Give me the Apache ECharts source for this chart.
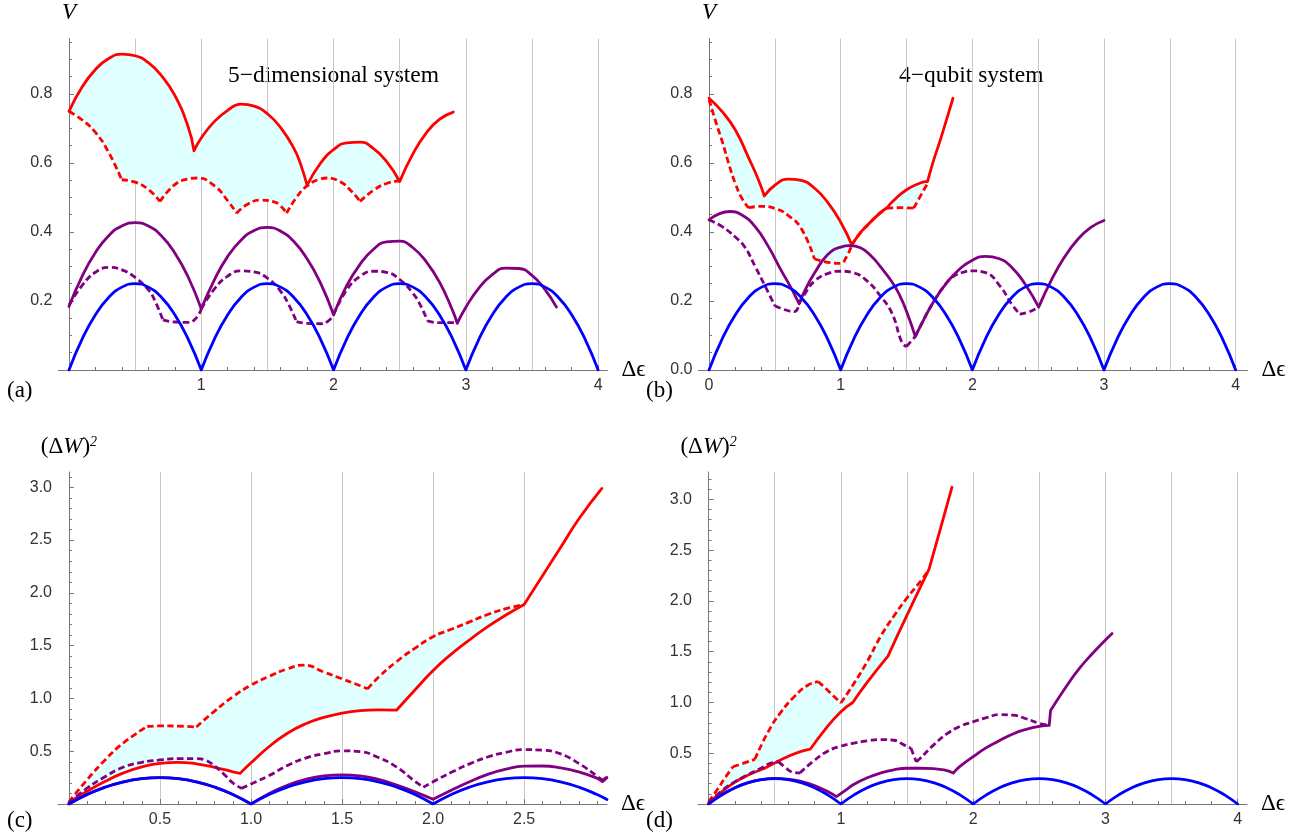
<!DOCTYPE html>
<html>
<head>
<meta charset="utf-8">
<script src="https://cdn.jsdelivr.net/npm/echarts@6/dist/echarts.min.js"></script>
<style>
  html, body { margin: 0; padding: 0; background: #fff; }
  #chart { width: 1301px; height: 836px; }
</style>
</head>
<body>
<div id="chart"></div>
<script>
// ---- curves, each one a list of arcs (cusps split the arcs) ----
// blue curve, same in (a), (b), (d)
const blueArcs = [
  [[0,0],[0.1,0.09],[0.2,0.16],[0.3,0.21],[0.4,0.24],[0.5,0.25],[0.6,0.24],[0.7,0.21],[0.8,0.16],[0.9,0.09],[1,0]],
  [[1,0],[1.1,0.09],[1.2,0.16],[1.3,0.21],[1.4,0.24],[1.5,0.25],[1.6,0.24],[1.7,0.21],[1.8,0.16],[1.9,0.09],[2,0]],
  [[2,0],[2.1,0.09],[2.2,0.16],[2.3,0.21],[2.4,0.24],[2.5,0.25],[2.6,0.24],[2.7,0.21],[2.8,0.16],[2.9,0.09],[3,0]],
  [[3,0],[3.1,0.09],[3.2,0.16],[3.3,0.21],[3.4,0.24],[3.5,0.25],[3.6,0.24],[3.7,0.21],[3.8,0.16],[3.9,0.09],[4,0]]
];

// (a) 5-dimensional system, V
const aRed = [
  [[0,0.749],[0.1,0.82],[0.2,0.87],[0.3,0.902],[0.4,0.915],[0.5,0.91],[0.6,0.89],[0.7,0.852],[0.8,0.795],[0.9,0.705],[0.945,0.635]],
  [[0.945,0.635],[1,0.672],[1.1,0.72],[1.2,0.752],[1.3,0.77],[1.4,0.764],[1.5,0.742],[1.6,0.702],[1.7,0.642],[1.75,0.597],[1.8,0.535]],
  [[1.8,0.535],[1.9,0.598],[2,0.638],[2.1,0.658],[2.2,0.66],[2.3,0.642],[2.4,0.604],[2.5,0.546]],
  [[2.5,0.546],[2.6,0.626],[2.7,0.686],[2.8,0.726],[2.905,0.747]]
];
const aRedD = [
  [[0,0.749],[0.1,0.724],[0.2,0.688],[0.3,0.63],[0.398,0.551]],
  [[0.398,0.551],[0.5,0.544],[0.6,0.523],[0.688,0.488]],
  [[0.688,0.488],[0.8,0.537],[0.9,0.553],[0.97,0.556],[1.1,0.533],[1.2,0.49],[1.267,0.454]],
  [[1.267,0.454],[1.35,0.48],[1.45,0.492],[1.55,0.487],[1.6,0.475],[1.645,0.454]],
  [[1.645,0.454],[1.72,0.5],[1.8,0.533],[1.9,0.553],[1.95,0.556],[2.05,0.545],[2.13,0.52],[2.2,0.488]],
  [[2.2,0.488],[2.3,0.52],[2.4,0.54],[2.5,0.548]]
];
const aPurple = [
  [[0,0.184],[0.1,0.272],[0.2,0.34],[0.3,0.389],[0.4,0.417],[0.5,0.427],[0.6,0.417],[0.7,0.388],[0.8,0.339],[0.9,0.27],[1,0.177]],
  [[1,0.177],[1.1,0.262],[1.2,0.329],[1.3,0.376],[1.4,0.404],[1.5,0.413],[1.6,0.402],[1.7,0.372],[1.8,0.322],[1.9,0.253],[2,0.16]],
  [[2,0.16],[2.1,0.245],[2.2,0.306],[2.3,0.349],[2.4,0.371],[2.5,0.373],[2.6,0.354],[2.7,0.314],[2.8,0.255],[2.9,0.172],[2.935,0.135]],
  [[2.935,0.135],[3,0.182],[3.1,0.238],[3.2,0.276],[3.3,0.295],[3.4,0.294],[3.5,0.274],[3.6,0.232],[3.685,0.182]]
];
const aPurpleD = [
  [[0,0.188],[0.1,0.245],[0.2,0.283],[0.3,0.297],[0.4,0.29],[0.5,0.268],[0.6,0.232],[0.65,0.2],[0.71,0.145]],
  [[0.71,0.145],[0.8,0.139],[0.9,0.138],[0.96,0.15],[1,0.177]],
  [[1,0.177],[1.1,0.235],[1.2,0.272],[1.3,0.287],[1.4,0.284],[1.5,0.266],[1.6,0.228],[1.66,0.19],[1.72,0.14]],
  [[1.72,0.14],[1.8,0.135],[1.9,0.134],[1.96,0.142],[2,0.16]],
  [[2,0.16],[2.1,0.232],[2.2,0.271],[2.3,0.286],[2.4,0.283],[2.5,0.262],[2.6,0.222],[2.66,0.185],[2.71,0.142]],
  [[2.71,0.142],[2.8,0.137],[2.9,0.137],[2.935,0.135]]
];

// (b) 4-qubit system, V
const bRed = [
  [[0,0.787],[0.1,0.748],[0.2,0.695],[0.3,0.615],[0.375,0.551],[0.42,0.504]],
  [[0.42,0.504],[0.5,0.535],[0.6,0.553],[0.7,0.549],[0.8,0.527],[0.9,0.486],[1,0.428],[1.085,0.362]],
  [[1.085,0.362],[1.14,0.393],[1.2,0.418],[1.3,0.455],[1.35,0.469]],
  [[1.35,0.469],[1.4,0.49],[1.5,0.522],[1.6,0.541],[1.66,0.546]],
  [[1.66,0.546],[1.7,0.6],[1.76,0.67],[1.8,0.72],[1.853,0.787]]
];
const bRedD = [
  [[0,0.783],[0.05,0.72],[0.1,0.662],[0.15,0.597],[0.2,0.54],[0.25,0.497],[0.3,0.47]],
  [[0.3,0.47],[0.4,0.474],[0.5,0.468],[0.6,0.448],[0.7,0.41],[0.8,0.322]],
  [[0.8,0.322],[0.9,0.312],[1,0.309],[1.04,0.325],[1.085,0.362]],
  [[1.085,0.362],[1.14,0.393],[1.2,0.418],[1.3,0.455],[1.35,0.469]],
  [[1.35,0.469],[1.45,0.47],[1.555,0.469]],
  [[1.555,0.469],[1.6,0.5],[1.668,0.546]]
];
const bPurple = [
  [[0,0.435],[0.08,0.453],[0.16,0.459],[0.25,0.449],[0.35,0.415],[0.45,0.358],[0.55,0.287],[0.62,0.24],[0.684,0.192]],
  [[0.684,0.192],[0.73,0.232],[0.8,0.28],[0.9,0.334],[1,0.356],[1.07,0.36],[1.15,0.354],[1.237,0.328],[1.3,0.3],[1.39,0.255],[1.45,0.215],[1.5,0.17],[1.567,0.097]],
  [[1.567,0.097],[1.6,0.123],[1.7,0.194],[1.8,0.25],[1.9,0.291],[2,0.318],[2.1,0.329],[2.2,0.323],[2.3,0.297],[2.4,0.249],[2.504,0.182]],
  [[2.504,0.182],[2.6,0.26],[2.7,0.327],[2.8,0.378],[2.9,0.413],[3,0.433]]
];
const bPurpleD = [
  [[0,0.435],[0.1,0.415],[0.2,0.385],[0.27,0.357],[0.35,0.3],[0.43,0.24],[0.5,0.186]],
  [[0.5,0.186],[0.58,0.174],[0.65,0.169],[0.684,0.192]],
  [[0.684,0.192],[0.73,0.222],[0.8,0.257],[0.9,0.279],[1,0.286],[1.1,0.281],[1.2,0.258],[1.3,0.215],[1.39,0.164],[1.465,0.08],[1.5,0.068]],
  [[1.5,0.068],[1.567,0.097]],
  [[1.567,0.097],[1.6,0.123],[1.7,0.194],[1.8,0.25],[1.86,0.272],[1.93,0.283],[2,0.287],[2.1,0.282],[2.21,0.243],[2.3,0.19],[2.36,0.162]],
  [[2.36,0.162],[2.43,0.168],[2.504,0.182]]
];

// (c) 5-dimensional system, (ΔW)^2
const cBlue = [
  [[0,0],[0.1,0.09],[0.2,0.16],[0.3,0.21],[0.4,0.24],[0.5,0.25],[0.6,0.24],[0.7,0.21],[0.8,0.16],[0.9,0.09],[1,0]],
  [[1,0],[1.1,0.09],[1.2,0.16],[1.3,0.21],[1.4,0.24],[1.5,0.25],[1.6,0.24],[1.7,0.21],[1.8,0.16],[1.9,0.09],[2,0]],
  [[2,0],[2.1,0.09],[2.2,0.16],[2.3,0.21],[2.4,0.24],[2.5,0.25],[2.6,0.24],[2.7,0.21],[2.8,0.16],[2.9,0.09],[2.955,0.043]]
];
const cPurple = [
  [[0,0],[0.1,0.09],[0.2,0.16],[0.3,0.21],[0.4,0.24],[0.5,0.25],[0.6,0.24],[0.7,0.21],[0.8,0.16],[0.9,0.09],[1,0]],
  [[1,0],[1.1,0.1],[1.2,0.178],[1.3,0.233],[1.4,0.266],[1.5,0.276],[1.6,0.266],[1.7,0.233],[1.8,0.18],[1.9,0.115],[2,0.045]],
  [[2,0.045],[2.1,0.13],[2.2,0.21],[2.3,0.28],[2.4,0.33],[2.5,0.358],[2.6,0.36],[2.7,0.343],[2.8,0.305],[2.9,0.245],[2.93,0.212]],
  [[2.93,0.212],[2.955,0.25]]
];
const cPurpleD = [
  [[0,0.01],[0.1,0.15],[0.2,0.26],[0.3,0.35],[0.4,0.395],[0.5,0.417],[0.6,0.43],[0.7,0.43],[0.75,0.415],[0.8,0.36],[0.85,0.285],[0.9,0.2],[0.948,0.148]],
  [[0.948,0.148],[1,0.19],[1.1,0.27],[1.2,0.365],[1.3,0.435],[1.4,0.476],[1.5,0.503],[1.6,0.496],[1.7,0.44],[1.8,0.35],[1.9,0.215],[1.946,0.158]],
  [[1.946,0.158],[2,0.21],[2.1,0.3],[2.2,0.38],[2.3,0.445],[2.4,0.49],[2.5,0.515],[2.6,0.51],[2.7,0.475],[2.8,0.385],[2.9,0.265],[2.93,0.225]],
  [[2.93,0.225],[2.955,0.255]]
];
const cRed = [
  [[0,0.013],[0.1,0.12],[0.2,0.215],[0.3,0.295],[0.4,0.352],[0.5,0.385],[0.6,0.395],[0.7,0.38],[0.8,0.348],[0.9,0.305],[0.94,0.29]],
  [[0.94,0.29],[1,0.39],[1.1,0.545],[1.2,0.67],[1.3,0.76],[1.4,0.82],[1.5,0.86],[1.6,0.884],[1.7,0.892],[1.8,0.89]],
  [[1.8,0.89],[1.9,1.08],[2,1.265],[2.1,1.42],[2.2,1.555],[2.3,1.68],[2.4,1.79],[2.5,1.89]],
  [[2.5,1.89],[2.6,2.16],[2.7,2.43],[2.8,2.7],[2.927,2.99]]
];
const cRedD = [
  [[0,0.02],[0.1,0.23],[0.2,0.42],[0.3,0.58],[0.43,0.735]],
  [[0.43,0.735],[0.5,0.74],[0.6,0.738],[0.7,0.73]],
  [[0.7,0.73],[0.8,0.88],[0.9,1.016],[1,1.125],[1.1,1.21],[1.2,1.28],[1.29,1.316],[1.4,1.25],[1.5,1.185],[1.6,1.12],[1.64,1.09]],
  [[1.64,1.09],[1.7,1.2],[1.8,1.35],[1.9,1.475],[2,1.585],[2.1,1.655],[2.2,1.725],[2.3,1.795],[2.4,1.85],[2.5,1.89]]
];

// (d) 4-qubit system, (ΔW)^2
const dRed = [
  [[0,0.01],[0.1,0.12],[0.2,0.215],[0.3,0.285],[0.42,0.35]],
  [[0.42,0.35],[0.5,0.405],[0.6,0.468],[0.7,0.518],[0.77,0.541]],
  [[0.77,0.541],[0.877,0.728],[1,0.909],[1.09,1]],
  [[1.09,1],[1.2,1.2],[1.356,1.457]],
  [[1.356,1.457],[1.5,1.86],[1.666,2.31]],
  [[1.666,2.31],[1.75,2.7],[1.84,3.12]]
];
const dRedD = [
  [[0,0.023],[0.07,0.15],[0.12,0.25],[0.184,0.367]],
  [[0.184,0.367],[0.26,0.4],[0.35,0.44]],
  [[0.35,0.44],[0.45,0.71],[0.55,0.91],[0.65,1.06],[0.75,1.17],[0.83,1.205]],
  [[0.83,1.205],[0.9,1.12],[1,0.995]],
  [[1,0.995],[1.1,1.19],[1.2,1.405],[1.3,1.65],[1.4,1.85],[1.5,2.03],[1.6,2.19],[1.666,2.31]]
];
const dPurple = [
  [[0,0],[0.1,0.09],[0.2,0.16],[0.3,0.21],[0.4,0.24],[0.5,0.252],[0.6,0.244],[0.7,0.222],[0.8,0.182],[0.9,0.122],[0.966,0.072]],
  [[0.966,0.072],[1.05,0.15],[1.1,0.195],[1.2,0.258],[1.3,0.305],[1.4,0.337],[1.5,0.352],[1.6,0.352],[1.7,0.348],[1.78,0.335],[1.85,0.305]],
  [[1.85,0.305],[1.9,0.37],[2,0.466],[2.1,0.555],[2.2,0.625],[2.3,0.69],[2.4,0.735],[2.5,0.765],[2.575,0.775]],
  [[2.575,0.775],[2.585,0.92]],
  [[2.585,0.92],[2.7,1.15],[2.8,1.33],[2.9,1.48],[3,1.615],[3.05,1.68]]
];
const dPurpleD = [
  [[0,0.01],[0.1,0.13],[0.2,0.22],[0.3,0.29],[0.4,0.355],[0.47,0.402],[0.53,0.415]],
  [[0.53,0.415],[0.58,0.36],[0.625,0.318],[0.69,0.305]],
  [[0.69,0.305],[0.8,0.43],[0.9,0.52],[1,0.57],[1.1,0.6],[1.2,0.622],[1.3,0.635],[1.4,0.628],[1.48,0.58],[1.53,0.55]],
  [[1.53,0.55],[1.57,0.415]],
  [[1.57,0.415],[1.6,0.45],[1.7,0.58],[1.8,0.69],[1.9,0.765],[2,0.81],[2.1,0.85],[2.2,0.88],[2.3,0.875],[2.4,0.84],[2.5,0.794],[2.575,0.775]]
];

// ---- ticks and labels ----
const intXTicks = [1, 2, 3, 4];
const intXMinor = [0.2,0.4,0.6,0.8,1.2,1.4,1.6,1.8,2.2,2.4,2.6,2.8,3.2,3.4,3.6,3.8];
const intXGrid = [0.5, 1, 1.5, 2, 2.5, 3, 3.5, 4];
const aXLabels = [1, 2, 3, 4];
const bXLabels = [0, 1, 2, 3, 4];
const dXLabels = [1, 2, 3, 4];
const cXTicks = [0.5, 1, 1.5, 2, 2.5];
const cXMinor = [0.1,0.2,0.3,0.4,0.6,0.7,0.8,0.9,1.1,1.2,1.3,1.4,1.6,1.7,1.8,1.9,2.1,2.2,2.3,2.4,2.6,2.7,2.8,2.9];
const cXGrid = [0.5, 1, 1.5, 2, 2.5];
const vYTicks = [0.2, 0.4, 0.6, 0.8];
const vYMinor = [0.05,0.1,0.15,0.25,0.3,0.35,0.45,0.5,0.55,0.65,0.7,0.75,0.85,0.9,0.95];
const aYLabels = [0.2, 0.4, 0.6, 0.8];
const bYLabels = [0, 0.2, 0.4, 0.6, 0.8];
const wYTicks = [0.5, 1, 1.5, 2, 2.5, 3];
const wYLabels = [0.5, 1, 1.5, 2, 2.5, 3];
const cYMinor = [0.1,0.2,0.3,0.4,0.6,0.7,0.8,0.9,1.1,1.2,1.3,1.4,1.6,1.7,1.8,1.9,2.1,2.2,2.3,2.4,2.6,2.7,2.8,2.9,3.1];
const dYMinor = [0.1,0.2,0.3,0.4,0.6,0.7,0.8,0.9,1.1,1.2,1.3,1.4,1.6,1.7,1.8,1.9,2.1,2.2,2.3,2.4,2.6,2.7,2.8,2.9,3.1,3.2];

// ---- style ----
const BLUE = '#0000ff';
const PURPLE = '#800080';
const RED = '#ff0000';
const FILL = '#e0ffff';
const AXIS = '#777777';
const GRIDLINE = '#c8c8c8';
const SERIF = '"Liberation Serif", "DejaVu Serif", serif';
const SANS = '"Liberation Sans", Arial, sans-serif';

const yNameV = '{i|V}';
const yNameW = '{n|(Δ}{i|W}{n|)}{s|2}';

const panels = [
  { left: 58.4, top: 38.5, width: 549, height: 331.5, xMin: -0.08, xMax: 4.07, yMax: 0.96,
    xTicks: intXTicks, xMinor: intXMinor, xGrid: intXGrid, xLabels: aXLabels, xFmt: v => String(v),
    yTicks: vYTicks, yMinor: vYMinor, yLabels: aYLabels, yName: yNameV,
    red: aRed, redD: aRedD, purple: aPurple, purpleD: aPurpleD, blue: blueArcs,
    fills: [[aRed.slice(0, 3), aRedD]] },
  { left: 698.5, top: 38.5, width: 549, height: 331.5, xMin: -0.08, xMax: 4.09, yMax: 0.96,
    xTicks: intXTicks, xMinor: intXMinor, xGrid: intXGrid, xLabels: bXLabels, xFmt: v => String(v),
    yTicks: vYTicks, yMinor: vYMinor, yLabels: bYLabels, yName: yNameV,
    red: bRed, redD: bRedD, purple: bPurple, purpleD: bPurpleD, blue: blueArcs,
    fills: [[bRed.slice(0, 2), bRedD.slice(0, 3)], [bRed.slice(3, 4), bRedD.slice(4, 6)]] },
  { left: 58, top: 472, width: 549, height: 332, xMin: -0.06, xMax: 2.955, yMax: 3.145,
    xTicks: cXTicks, xMinor: cXMinor, xGrid: cXGrid, xLabels: cXTicks, xFmt: v => v.toFixed(1),
    yTicks: wYTicks, yMinor: cYMinor, yLabels: wYLabels, yName: yNameW,
    red: cRed, redD: cRedD, purple: cPurple, purpleD: cPurpleD, blue: cBlue,
    fills: [[cRedD, cRed.slice(0, 3)]] },
  { left: 698, top: 472, width: 549, height: 332, xMin: -0.08, xMax: 4.07, yMax: 3.27,
    xTicks: intXTicks, xMinor: intXMinor, xGrid: intXGrid, xLabels: dXLabels, xFmt: v => String(v),
    yTicks: wYTicks, yMinor: dYMinor, yLabels: wYLabels, yName: yNameW,
    red: dRed, redD: dRedD, purple: dPurple, purpleD: dPurpleD, blue: blueArcs,
    fills: [[dRedD, dRed.slice(0, 5)]] }
];

// join arcs into one line, with a break at each cusp so it stays sharp
function joinArcs(arcs) {
  const out = [];
  arcs.forEach((arc, i) => {
    if (i > 0) out.push([arc[0][0], '-']);
    arc.forEach(p => out.push(p));
  });
  return out;
}

function lineSeries(gi, arcs, color, dashed) {
  return {
    type: 'line',
    xAxisIndex: gi * 3,
    yAxisIndex: gi * 2,
    data: joinArcs(arcs),
    showSymbol: false,
    symbol: 'none',
    smooth: 0.5,
    connectNulls: false,
    z: 2,
    silent: true,
    emphasis: { disabled: true },
    lineStyle: {
      color: color,
      width: 2.8,
      type: dashed ? [6.5, 3.5] : 'solid',
      cap: dashed ? 'butt' : 'round',
      join: 'round'
    }
  };
}

function fillSeries(gi, fills) {
  const polys = fills.map(f => f[0].flat().concat(f[1].flat().slice().reverse()));
  return {
    type: 'custom',
    xAxisIndex: gi * 3,
    yAxisIndex: gi * 2,
    z: 1,
    silent: true,
    data: polys.map(() => [0, 0]),
    renderItem: function (params, api) {
      const poly = polys[params.dataIndex];
      return {
        type: 'polygon',
        shape: { points: poly.map(p => api.coord(p)) },
        style: { fill: FILL, stroke: null }
      };
    }
  };
}

const grids = [];
const xAxes = [];
const yAxes = [];
const series = [];

panels.forEach((p, gi) => {
  grids.push({ left: p.left, top: p.top, width: p.width, height: p.height,
    containLabel: false, outerBoundsMode: 'none' });

  // main x axis: line, major ticks, labels, name
  xAxes.push({
    gridIndex: gi, type: 'value', position: 'bottom', min: p.xMin, max: p.xMax,
    axisLine: { show: true, onZero: false, lineStyle: { color: AXIS, width: 1 } },
    axisTick: { show: true, inside: true, length: 5, customValues: p.xTicks, lineStyle: { color: AXIS } },
    axisLabel: { show: true, customValues: p.xLabels, formatter: p.xFmt, margin: 8,
      color: '#333', fontSize: 16, fontFamily: SANS },
    splitLine: { show: false },
    name: 'Δϵ', nameLocation: 'end', nameGap: 14,
    nameTextStyle: { fontFamily: SERIF, fontSize: 23, color: '#000' }
  });
  // minor x ticks
  xAxes.push({
    gridIndex: gi, type: 'value', position: 'bottom', min: p.xMin, max: p.xMax,
    axisLine: { show: false, onZero: false },
    axisTick: { show: true, inside: true, length: 3, customValues: p.xMinor, lineStyle: { color: AXIS } },
    axisLabel: { show: false },
    splitLine: { show: false }
  });
  // vertical grid lines
  xAxes.push({
    gridIndex: gi, type: 'value', position: 'bottom', min: p.xMin, max: p.xMax,
    axisLine: { show: false, onZero: false },
    axisTick: { show: false, customValues: p.xGrid },
    axisLabel: { show: false },
    splitLine: { show: true, lineStyle: { color: GRIDLINE, width: 1 } }
  });

  // main y axis, sits on x = 0
  yAxes.push({
    gridIndex: gi, type: 'value', position: 'left', min: 0, max: p.yMax,
    axisLine: { show: true, onZero: true, lineStyle: { color: AXIS, width: 1 } },
    axisTick: { show: true, inside: true, length: 5, customValues: p.yTicks, lineStyle: { color: AXIS } },
    axisLabel: { show: true, customValues: p.yLabels, formatter: v => v.toFixed(1), margin: 6,
      color: '#333', fontSize: 16, fontFamily: SANS },
    splitLine: { show: false },
    name: p.yName, nameLocation: 'end', nameGap: 14,
    nameTextStyle: {
      fontFamily: SERIF, fontSize: 23, fontStyle: 'normal', color: '#000',
      rich: {
        n: { fontFamily: SERIF, fontSize: 23, fontStyle: 'normal', color: '#000' },
        i: { fontFamily: SERIF, fontSize: 23, fontStyle: 'italic', color: '#000' },
        s: { fontFamily: SERIF, fontSize: 14, fontStyle: 'italic', color: '#000', verticalAlign: 'top' }
      }
    }
  });
  // minor y ticks
  yAxes.push({
    gridIndex: gi, type: 'value', position: 'left', min: 0, max: p.yMax,
    axisLine: { show: false, onZero: true },
    axisTick: { show: true, inside: true, length: 3, customValues: p.yMinor, lineStyle: { color: AXIS } },
    axisLabel: { show: false },
    splitLine: { show: false }
  });

  series.push(fillSeries(gi, p.fills));
  series.push(lineSeries(gi, p.redD, RED, true));
  series.push(lineSeries(gi, p.red, RED, false));
  series.push(lineSeries(gi, p.purpleD, PURPLE, true));
  series.push(lineSeries(gi, p.purple, PURPLE, false));
  series.push(lineSeries(gi, p.blue, BLUE, false));
});

function label(text, x, y, size) {
  return { type: 'text', x: x, y: y, silent: true,
    style: { text: text, fill: '#000', font: (size || 23) + 'px ' + SERIF, align: 'left', verticalAlign: 'middle' } };
}

const chart = echarts.init(document.getElementById('chart'));
chart.setOption({
  animation: false,
  backgroundColor: '#ffffff',
  grid: grids,
  xAxis: xAxes,
  yAxis: yAxes,
  series: series,
  graphic: [
    label('5−dimensional system', 228, 75.5, 23.5),
    label('4−qubit system', 899, 75.5, 23.5),
    label('(a)', 7, 391),
    label('(b)', 646, 391),
    label('(c)', 7, 821),
    label('(d)', 646, 821)
  ]
});
</script>
</body>
</html>
